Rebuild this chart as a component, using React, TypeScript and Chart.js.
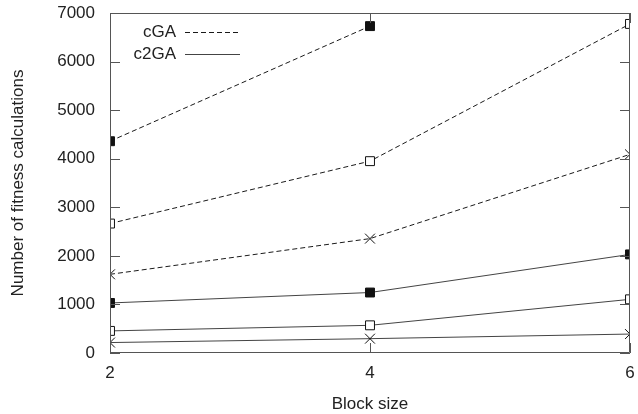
import React, { useEffect, useRef } from "react";
import { Chart, registerables } from "chart.js";

Chart.register(...registerables);

const blockSizes = [2, 4, 6];
const cgaFilled: (number | null)[] = [4360, 6730, null];
const cgaOpen = [2665, 3950, 6775];
const cgaCross = [1620, 2355, 4090];
const c2gaFilled = [1030, 1245, 2030];
const c2gaOpen = [455, 570, 1105];
const c2gaCross = [215, 295, 390];
const xTickValues = [2, 4, 6];
const yTickValues = [0, 1000, 2000, 3000, 4000, 5000, 6000, 7000];
const legendNames = ["cGA", "c2GA"];

const FONT = "Liberation Sans, Arial, Helvetica, sans-serif";
const TEXT = "#222";
const DASHED = "#1a1a1a";
const SOLID = "#444";
const DASH = [5, 3];

function pts(vals: (number | null)[]) {
  return blockSizes
    .map((x, i) => ({ x, y: vals[i] }))
    .filter((p) => p.y !== null) as { x: number; y: number }[];
}

function series(
  vals: (number | null)[],
  style: "filled" | "open" | "cross",
  dashed: boolean
) {
  const color = dashed ? DASHED : SOLID;
  return {
    data: pts(vals),
    borderColor: color,
    borderWidth: 1,
    borderDash: dashed ? DASH : [],
    pointStyle: style === "cross" ? "crossRot" : "rect",
    pointRadius: style === "cross" ? 7 : 6.3,
    pointBorderWidth: 1,
    pointBorderColor: "#111",
    pointBackgroundColor: style === "filled" ? "#111" : "#fff",
    fill: false,
    tension: 0,
  };
}

const frame = {
  id: "frame",
  afterDatasetsDraw(chart: any) {
    const { ctx, chartArea: a, scales } = chart;
    const xs = scales.x;
    const ys = scales.y;
    ctx.save();
    ctx.strokeStyle = "#555";
    ctx.lineWidth = 1;
    ctx.setLineDash([]);
    ctx.beginPath();
    ctx.rect(a.left + 0.5, a.top + 0.5, a.right - a.left - 1, a.bottom - a.top - 1);
    ctx.stroke();
    const L = 10;
    ctx.beginPath();
    for (const v of yTickValues) {
      const y = Math.round(ys.getPixelForValue(v)) + 0.5;
      ctx.moveTo(a.left, y);
      ctx.lineTo(a.left + L, y);
      ctx.moveTo(a.right, y);
      ctx.lineTo(a.right - L, y);
    }
    for (const v of xTickValues) {
      const x = Math.round(xs.getPixelForValue(v)) + 0.5;
      ctx.moveTo(x, a.bottom);
      ctx.lineTo(x, a.bottom - L);
      ctx.moveTo(x, a.top);
      ctx.lineTo(x, a.top + L);
    }
    ctx.stroke();

    // legend
    ctx.font = `17px ${FONT}`;
    ctx.fillStyle = TEXT;
    ctx.textAlign = "right";
    ctx.textBaseline = "middle";
    const rows = [
      { y: a.top + 19, dashed: true },
      { y: a.top + 41, dashed: false },
    ];
    rows.forEach((r, i) => {
      ctx.fillText(legendNames[i], a.left + 66, r.y);
      ctx.beginPath();
      ctx.strokeStyle = r.dashed ? DASHED : SOLID;
      ctx.setLineDash(r.dashed ? DASH : []);
      ctx.moveTo(a.left + 75, Math.round(r.y) + 0.5);
      ctx.lineTo(a.left + 130, Math.round(r.y) + 0.5);
      ctx.stroke();
    });
    ctx.restore();
  },
};

export default function App() {
  const ref = useRef<HTMLCanvasElement>(null);
  useEffect(() => {
    if (!ref.current) return;
    const chart = new Chart(ref.current, {
      type: "line",
      data: {
        datasets: [
          series(cgaFilled, "filled", true),
          series(cgaOpen, "open", true),
          series(cgaCross, "cross", true),
          series(c2gaFilled, "filled", false),
          series(c2gaOpen, "open", false),
          series(c2gaCross, "cross", false),
        ] as any,
      },
      options: {
        animation: false,
        responsive: false,
        devicePixelRatio: 1,
        layout: { padding: { left: 0, right: 7, top: 13, bottom: 0 } },
        plugins: { legend: { display: false }, tooltip: { enabled: false } },
        scales: {
          x: {
            type: "linear",
            min: 2,
            max: 6,
            afterFit: (s: any) => {
              s.height = 61;
              s.paddingLeft = 0;
              s.paddingRight = 0;
            },
            afterBuildTicks: (s: any) => {
              s.ticks = xTickValues.map((v) => ({ value: v }));
            },
            grid: { display: false, drawTicks: false },
            border: { display: false },
            ticks: {
              color: TEXT,
              font: { family: FONT, size: 17 },
              padding: 10,
              maxRotation: 0,
              callback: (v: any) => String(v),
            },
            title: {
              display: true,
              text: "Block size",
              color: TEXT,
              font: { family: FONT, size: 17 },
              padding: { top: 0, bottom: -1 },
            },
          },
          y: {
            type: "linear",
            min: 0,
            max: 7000,
            afterFit: (s: any) => {
              s.width = 110;
              s.paddingTop = 0;
              s.paddingBottom = 0;
            },
            afterBuildTicks: (s: any) => {
              s.ticks = yTickValues.map((v) => ({ value: v }));
            },
            grid: { display: false, drawTicks: false },
            border: { display: false },
            ticks: {
              color: TEXT,
              font: { family: FONT, size: 17 },
              padding: 15,
              callback: (v: any) => String(v),
            },
            title: {
              display: true,
              text: "Number of fitness calculations",
              color: TEXT,
              font: { family: FONT, size: 17 },
              padding: { top: 8, bottom: 0 },
            },
          },
        },
      } as any,
      plugins: [frame],
    });
    return () => chart.destroy();
  }, []);
  return (
    <div style={{ position: "absolute", left: 0, top: 0, width: 638, height: 414, background: "#fff" }}>
      <canvas ref={ref} width={638} height={414} />
    </div>
  );
}
